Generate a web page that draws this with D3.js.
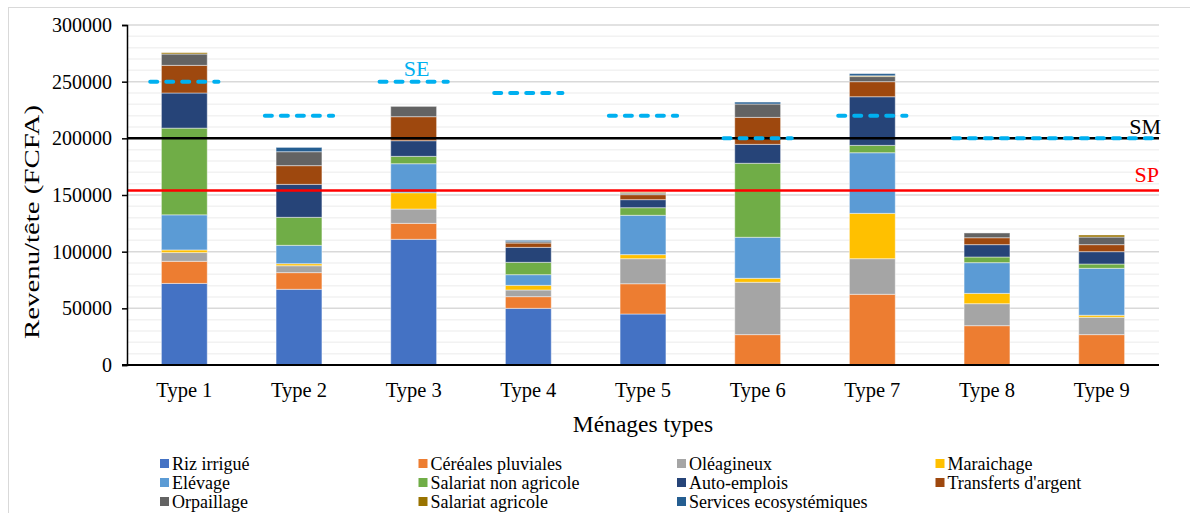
<!DOCTYPE html>
<html>
<head>
<meta charset="utf-8">
<style type="text/css">
    body {
        margin: 0;
        background: #fff;
    }

    svg text {
        font-family: "Liberation Serif", "Times New Roman", serif !important;
        fill: #000;
    }

    .grid-minor line {
        stroke: #F2F2F2;
        stroke-width: 1.5;
    }

    .grid-major line {
        stroke: #D9D9D9;
        stroke-width: 1.5;
    }

    .segment {
        stroke: #fff;
        stroke-opacity: 0.45;
        stroke-width: 1;
    }
</style>
</head>
<body>
<script src="https://d3js.org/d3.v7.min.js"></script>
<script type="text/javascript">

    // categories
    var types = ["Type 1", "Type 2", "Type 3", "Type 4", "Type 5", "Type 6", "Type 7", "Type 8", "Type 9"];

    // income sources, bottom to top of each bar
    var sources = ["Riz irrigu\u00e9", "C\u00e9r\u00e9ales pluviales", "Ol\u00e9agineux", "Maraichage",
        "El\u00e9vage", "Salariat non agricole", "Auto-emplois", "Transferts d'argent",
        "Orpaillage", "Salariat agricole", "Services ecosyst\u00e9miques"];

    var colors = ["#4472C4", "#ED7D31", "#A5A5A5", "#FFC000", "#5B9BD5", "#70AD47",
        "#264478", "#9E480E", "#636363", "#997300", "#255E91"];

    // values per source (FCFA per head), one per type
    var riz = [72000, 66800, 110900, 50000, 45000, 0, 0, 0, 0];
    var cereales = [19500, 14700, 14100, 10300, 26700, 26800, 62400, 34700, 26800];
    var oleagineux = [7700, 6100, 12600, 5900, 22100, 46200, 31400, 19400, 15300];
    var maraichage = [2300, 1800, 14400, 4100, 3600, 3500, 40000, 9100, 1800];
    var elevage = [31000, 16200, 25600, 9400, 34700, 36200, 53500, 27100, 41400];
    var salariatNonAgri = [76500, 24700, 6500, 10900, 6700, 65300, 6500, 5000, 3800];
    var autoEmplois = [31000, 29100, 13800, 13200, 7100, 16700, 42900, 10900, 10900];
    var transferts = [24400, 16500, 21200, 3800, 4400, 23800, 13300, 6100, 6200];
    var orpaillage = [10000, 12300, 9100, 1200, 1300, 11800, 4500, 4200, 6700];
    var salariatAgri = [1200, 0, 0, 0, 800, 0, 700, 0, 1800];
    var services = [0, 3800, 0, 1200, 0, 1700, 1900, 0, 0];

    // thresholds
    var seuilSE = [250000, 220000, 250000, 240000, 220000, 200000, 220000, 200000, 200000];
    var seuilSM = 200000;
    var seuilSP = 154000;

    var yTicks = [0, 50000, 100000, 150000, 200000, 250000, 300000];

    var seriesValues = [riz, cereales, oleagineux, maraichage, elevage, salariatNonAgri,
        autoEmplois, transferts, orpaillage, salariatAgri, services];

    var width = 1190, height = 513;
    var plot = { left: 127, right: 1159, top: 25, bottom: 365 };

    var svg = d3.select("body").append("svg")
        .attr("width", width)
        .attr("height", height);

    // chart frame
    svg.append("rect")
        .attr("x", 8.5)
        .attr("y", 7.5)
        .attr("width", 1300)
        .attr("height", 700)
        .style("fill", "none")
        .style("stroke", "#D9D9D9");

    var x = d3.scaleBand()
        .domain(types)
        .range([plot.left, plot.right])
        .paddingInner(0.6)
        .paddingOuter(0.3);

    var y = d3.scaleLinear()
        .domain([0, 300000])
        .range([plot.bottom, plot.top]);

    // gridlines
    svg.append("g")
        .attr("class", "grid-minor")
        .selectAll("line")
        .data(y.ticks(30).filter(function (d) { return d % 50000 !== 0; }))
        .enter().append("line")
        .attr("x1", plot.left)
        .attr("x2", plot.right)
        .attr("y1", function (d) { return y(d); })
        .attr("y2", function (d) { return y(d); });

    svg.append("g")
        .attr("class", "grid-major")
        .selectAll("line")
        .data(yTicks.slice(1))
        .enter().append("line")
        .attr("x1", plot.left)
        .attr("x2", plot.right)
        .attr("y1", function (d) { return y(d); })
        .attr("y2", function (d) { return y(d); });

    // stacked bars
    var table = types.map(function (t, i) {
        var row = { type: t };
        sources.forEach(function (s, j) { row[s] = seriesValues[j][i]; });
        return row;
    });

    var stacked = d3.stack().keys(sources)(table);

    svg.append("g")
        .selectAll("g")
        .data(stacked)
        .enter().append("g")
        .style("fill", function (d, i) { return colors[i]; })
        .selectAll("rect")
        .data(function (d) { return d.filter(function (s) { return s[1] > s[0]; }); })
        .enter().append("rect")
        .attr("class", "segment")
        .attr("x", function (d) { return x(d.data.type); })
        .attr("width", x.bandwidth())
        .attr("y", function (d) { return y(d[1]); })
        .attr("height", function (d) { return y(d[0]) - y(d[1]); });

    // SP and SM lines
    svg.append("line")
        .attr("x1", plot.left).attr("x2", plot.right)
        .attr("y1", y(seuilSP)).attr("y2", y(seuilSP))
        .style("stroke", "#FF0000")
        .style("stroke-width", 2.5);

    svg.append("line")
        .attr("x1", plot.left).attr("x2", plot.right)
        .attr("y1", y(seuilSM)).attr("y2", y(seuilSM))
        .style("stroke", "#000")
        .style("stroke-width", 2.5);

    // SE dashed segments, equal neighbours joined into one
    var half = x.step() * 0.315;
    var seGroups = [];
    seuilSE.forEach(function (v, i) {
        var last = seGroups[seGroups.length - 1];
        if (last && last.value === v) { last.end = i; }
        else seGroups.push({ value: v, start: i, end: i });
    });

    svg.append("g")
        .selectAll("line")
        .data(seGroups)
        .enter().append("line")
        .attr("x1", function (d) { return x(types[d.start]) + x.bandwidth() / 2 - half + 2; })
        .attr("x2", function (d) {
            if (d.end > d.start) return plot.right - 4;
            return x(types[d.end]) + x.bandwidth() / 2 + half - 2;
        })
        .attr("y1", function (d) { return y(d.value); })
        .attr("y2", function (d) { return y(d.value); })
        .style("stroke", "#00B0F0")
        .style("stroke-width", 4)
        .style("stroke-linecap", "round")
        .style("stroke-dasharray", "7,9");

    // threshold labels
    svg.append("text")
        .attr("x", x("Type 3") + x.bandwidth() / 2 + 3)
        .attr("y", y(seuilSE[2]) - 6)
        .attr("text-anchor", "middle")
        .style("font-size", "22px")
        .style("fill", "#00B0F0")
        .text("SE");

    svg.append("text")
        .attr("x", plot.right + 2)
        .attr("y", y(seuilSM) - 4)
        .attr("text-anchor", "end")
        .style("font-size", "22px")
        .text("SM");

    svg.append("text")
        .attr("x", plot.right)
        .attr("y", y(seuilSP) - 8)
        .attr("text-anchor", "end")
        .style("font-size", "22px")
        .style("fill", "#FF0000")
        .text("SP");

    // axes
    var yAxis = svg.append("g")
        .attr("transform", "translate(" + plot.left + ",0)")
        .call(d3.axisLeft(y).tickValues(yTicks).tickSize(5).tickPadding(10).tickFormat(d3.format("d")));
    yAxis.selectAll("text").style("font-size", "20px");
    yAxis.selectAll("line, path").style("stroke", "#000").style("stroke-width", 1.5);

    var xAxis = svg.append("g")
        .attr("transform", "translate(0," + plot.bottom + ")")
        .call(d3.axisBottom(x).tickSize(0).tickPadding(17));
    xAxis.selectAll("text").style("font-size", "20.5px");
    xAxis.select("path")
        .attr("d", "M" + (plot.left - 5) + ",0H" + plot.right)
        .style("stroke", "#000")
        .style("stroke-width", 2);

    // axis titles
    svg.append("text")
        .attr("x", 643)
        .attr("y", 432)
        .attr("text-anchor", "middle")
        .style("font-size", "23.5px")
        .text("M\u00e9nages types");

    svg.append("text")
        .attr("transform", "translate(39,222) rotate(-90)")
        .attr("text-anchor", "middle")
        .attr("textLength", 234)
        .attr("lengthAdjust", "spacingAndGlyphs")
        .style("font-size", "20px")
        .text("Revenu/t\u00eate (FCFA)");

    // legend
    var legend = svg.append("g")
        .selectAll("g")
        .data(sources)
        .enter().append("g")
        .attr("transform", function (d, i) {
            return "translate(" + (160 + (i % 4) * 258.5) + "," + (464 + Math.floor(i / 4) * 19) + ")";
        });

    legend.append("rect")
        .attr("x", 0)
        .attr("y", -5)
        .attr("width", 9)
        .attr("height", 9)
        .style("fill", function (d, i) { return colors[i]; });

    legend.append("text")
        .attr("x", 12)
        .attr("y", 6)
        .style("font-size", "18px")
        .text(function (d) { return d; });

</script>
</body>
</html>
